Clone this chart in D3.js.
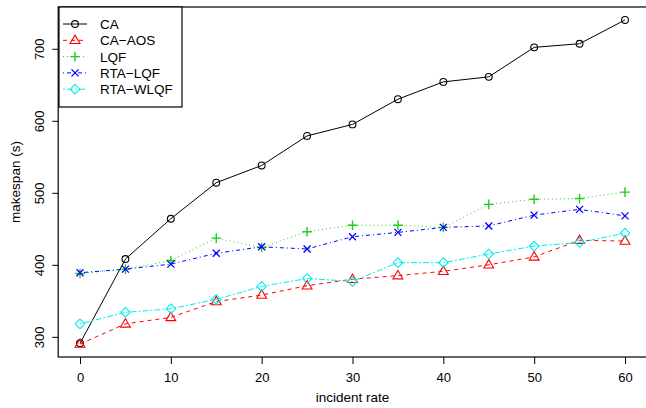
<!DOCTYPE html>
<html>
<head>
<meta charset="utf-8">
<script src="https://cdn.jsdelivr.net/npm/d3@7"></script>
<style>
  html, body { margin: 0; padding: 0; background: #fff; }
  svg { display: block; }
  text { font-family: "Liberation Sans", Arial, Helvetica, sans-serif; fill: #000; }
</style>
</head>
<body>
<svg id="chart" width="646" height="408"></svg>
<script>
// ---- data ----
const incidentRates = [0, 5, 10, 15, 20, 25, 30, 35, 40, 45, 50, 55, 60];
const caValues      = [291, 408, 464, 514, 538, 579, 595, 630, 654, 661, 702, 707, 740];
const caAosValues   = [290, 318, 327, 349, 358, 371, 380, 385, 391, 400, 411, 434, 433];
const lqfValues     = [388, 394, 406, 437, 424, 446, 455, 455, 452, 484, 491, 492, 501];
const rtaLqfValues  = [389, 394, 401, 416, 425, 422, 439, 445, 452, 454, 469, 477, 468];
const rtaWlqfValues = [318, 334, 339, 352, 370, 381, 377, 403, 403, 415, 426, 431, 444];
const seriesNames   = ["CA", "CA\u2212AOS", "LQF", "RTA\u2212LQF", "RTA\u2212WLQF"];
const xTickValues   = [0, 10, 20, 30, 40, 50, 60];
const yTickValues   = [300, 400, 500, 600, 700];
const xTitle = "incident rate";
const yTitle = "makespan (s)";

// ---- styles ----
const styles = [
  { color: "#000000", dash: null,        shape: "circle" },
  { color: "#FF0000", dash: "4,4",       shape: "triangle" },
  { color: "#22CC22", dash: "1,3",       shape: "plus" },
  { color: "#0000FF", dash: "1,3,4,3",   shape: "cross" },
  { color: "#00EEEE", dash: "2,2,6,2",   shape: "diamond" }
];
const allValues = [caValues, caAosValues, lqfValues, rtaLqfValues, rtaWlqfValues];
const series = seriesNames.map((name, i) => ({
  name, ...styles[i],
  points: incidentRates.map((x, j) => ({ x, y: allValues[i][j] }))
}));

const svg = d3.select("#chart");

// R-style 4% padded domains
const xMin = d3.min(incidentRates), xMax = d3.max(incidentRates);
const yMin = d3.min(allValues.flat()), yMax = d3.max(allValues.flat());
const xPad = (xMax - xMin) * 0.04, yPad = (yMax - yMin) * 0.04;

const x = d3.scaleLinear().domain([xMin - xPad, xMax + xPad]).range([58.2, 646.8]);
const y = d3.scaleLinear().domain([yMin - yPad, yMax + yPad]).range([357, 7]);

// box
svg.append("rect")
  .attr("x", x.range()[0]).attr("y", y.range()[1])
  .attr("width", x.range()[1] - x.range()[0])
  .attr("height", y.range()[0] - y.range()[1])
  .attr("fill", "none").attr("stroke", "#000").attr("stroke-width", 1.2);

// axes
const xAxis = d3.axisBottom(x).tickValues(xTickValues).tickSize(7).tickPadding(9).tickFormat(d3.format("d"));
const gx = svg.append("g").attr("transform", `translate(0,${y.range()[0]})`).call(xAxis);
gx.select(".domain").remove();
gx.selectAll("line").attr("stroke", "#000");
gx.selectAll("text").attr("font-size", 13).attr("font-family", "Liberation Sans, Arial, sans-serif");

const yAxis = d3.axisLeft(y).tickValues(yTickValues).tickSize(6).tickFormat(d3.format("d"));
const gy = svg.append("g").attr("transform", `translate(${x.range()[0]},0)`).call(yAxis);
gy.select(".domain").remove();
gy.selectAll("line").attr("stroke", "#000");
gy.selectAll("text").remove();
gy.selectAll(".tick").append("text")
  .attr("transform", "translate(-14,0) rotate(-90)")
  .attr("text-anchor", "middle")
  .attr("font-size", 13)
  .attr("font-family", "Liberation Sans, Arial, sans-serif")
  .attr("fill", "#000")
  .text(d => d);

// axis titles
svg.append("text")
  .attr("x", (x(xMin) + x(xMax)) / 2).attr("y", 402)
  .attr("text-anchor", "middle").attr("font-size", 13.5)
  .text(xTitle);
svg.append("text")
  .attr("transform", `translate(20,${(y.range()[0] + y.range()[1]) / 2}) rotate(-90)`)
  .attr("text-anchor", "middle").attr("font-size", 13.5)
  .text(yTitle);

// marker drawing
function drawMarker(g, shape, color, cx, cy) {
  const sw = 1.1;
  if (shape === "circle") {
    g.append("circle").attr("cx", cx).attr("cy", cy).attr("r", 3.4)
      .attr("fill", "#fff").attr("fill-opacity", 0).attr("stroke", color).attr("stroke-width", sw);
  } else if (shape === "triangle") {
    const r = 5.2;
    g.append("path")
      .attr("d", `M${cx},${cy - r} L${cx + r * 0.95},${cy + r * 0.62} L${cx - r * 0.95},${cy + r * 0.62} Z`)
      .attr("fill", "none").attr("stroke", color).attr("stroke-width", sw);
  } else if (shape === "plus") {
    const r = 4.8;
    g.append("path")
      .attr("d", `M${cx - r},${cy} H${cx + r} M${cx},${cy - r} V${cy + r}`)
      .attr("stroke", color).attr("stroke-width", 1.4).attr("fill", "none");
  } else if (shape === "cross") {
    const r = 3.5;
    g.append("path")
      .attr("d", `M${cx - r},${cy - r} L${cx + r},${cy + r} M${cx - r},${cy + r} L${cx + r},${cy - r}`)
      .attr("stroke", color).attr("stroke-width", 1.3).attr("fill", "none");
  } else if (shape === "diamond") {
    const r = 4.8;
    g.append("path")
      .attr("d", `M${cx},${cy - r} L${cx + r},${cy} L${cx},${cy + r} L${cx - r},${cy} Z`)
      .attr("fill", "none").attr("stroke", color).attr("stroke-width", sw);
  }
}

// lines + markers
const line = d3.line().x(d => x(d.x)).y(d => y(d.y));
series.forEach(s => {
  const g = svg.append("g");
  g.append("path").datum(s.points)
    .attr("d", line)
    .attr("fill", "none")
    .attr("stroke", s.color)
    .attr("stroke-width", 1)
    .attr("stroke-dasharray", s.dash);
  s.points.forEach(p => drawMarker(g, s.shape, s.color, x(p.x), y(p.y)));
});

// legend
const legend = svg.append("g");
legend.append("rect")
  .attr("x", 59).attr("y", 7).attr("width", 123).attr("height", 100)
  .attr("fill", "#fff").attr("stroke", "#000").attr("stroke-width", 1.2);
series.forEach((s, i) => {
  const ly = 24 + i * 16.3;
  legend.append("line")
    .attr("x1", 63).attr("x2", 87).attr("y1", ly).attr("y2", ly)
    .attr("stroke", s.color).attr("stroke-width", 1).attr("stroke-dasharray", s.dash);
  drawMarker(legend, s.shape, s.color, 75, ly);
  legend.append("text")
    .attr("x", 100).attr("y", ly + 5)
    .attr("font-size", 13.5)
    .text(s.name);
});
</script>
</body>
</html>
